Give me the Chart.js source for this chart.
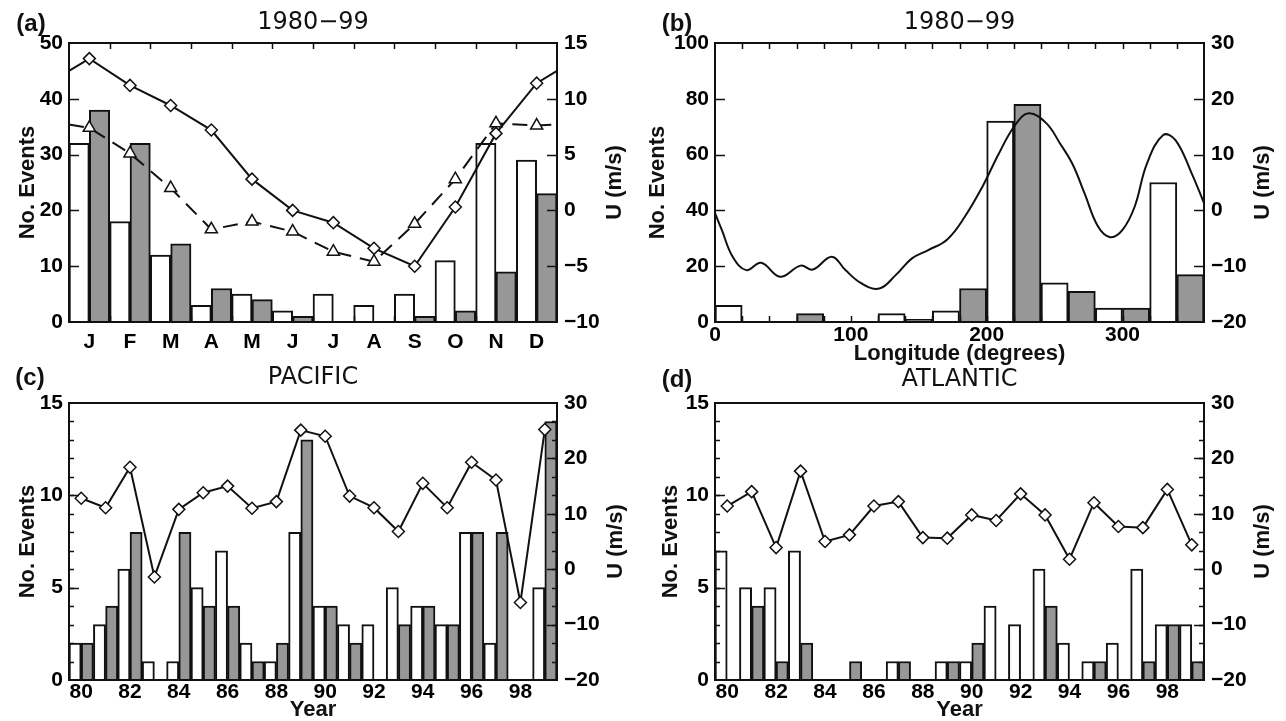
<!DOCTYPE html>
<html>
<head>
<meta charset="utf-8">
<script src="https://cdn.jsdelivr.net/npm/chart.js@4.4.0/dist/chart.umd.min.js"></script>
<style>
  html, body { margin: 0; padding: 0; background: #fff; width: 1286px; height: 721px; overflow: hidden; }
  canvas { position: absolute; }
</style>
</head>
<body>
<canvas id="pa" width="643" height="360" style="left:0;top:0"></canvas>
<canvas id="pb" width="643" height="368" style="left:643px;top:0"></canvas>
<canvas id="pc" width="643" height="361" style="left:0;top:360px"></canvas>
<canvas id="pd" width="643" height="353" style="left:643px;top:368px"></canvas>
<script>
// (a) seasonal cycle 1980-99
var months = ['J', 'F', 'M', 'A', 'M', 'J', 'J', 'A', 'S', 'O', 'N', 'D'];
var monthOpen = [32, 18, 12, 3, 5, 2, 5, 3, 5, 11, 32, 29];
var monthShaded = [38, 32, 14, 6, 4, 1, 0, 0, 1, 2, 9, 23];
var monthUDiamond = [13.6, 11.2, 9.4, 7.2, 2.8, 0.0, -1.1, -3.4, -5.0, 0.3, 6.9, 11.4];
var monthUTriangle = [7.4, 5.1, 2.0, -1.7, -1.0, -1.9, -3.7, -4.6, -1.2, 2.8, 7.8, 7.6];
var monthUDiamondEdge = 12.5;   // where the solid curve meets the frame (Dec/Jan wrap)
var monthUTriangleEdge = 7.7;

// (b) longitude distribution, 20 degree bins
var lonOpenStart = [0, 40, 80, 120, 160, 200, 240, 280, 320];
var lonOpen = [6, 0, 0, 3, 4, 72, 14, 5, 50];
var lonShadedStart = [20, 60, 100, 140, 180, 220, 260, 300, 340];
var lonShaded = [0, 3, 0, 1, 12, 78, 11, 5, 17];
var lonBinWidth = 20;
var lonTicks = [0, 100, 200, 300];
var lonCurveX = [0, 5, 13, 23, 34, 48, 63, 72, 86, 96, 108, 121, 133, 145, 157, 171, 184, 197, 209, 221, 231, 244, 254, 263, 272, 282, 291, 300, 309, 318, 330, 339, 351, 360];
var lonCurveU = [-0.5, -3.5, -8.3, -10.7, -9.4, -11.9, -9.9, -10.6, -8.3, -10.7, -13.1, -14.0, -11.6, -8.6, -7.1, -5.2, -1.1, 4.3, 10.2, 15.3, 17.4, 15.6, 12.0, 8.4, 3.1, -2.9, -4.8, -3.5, 0.7, 8.4, 13.5, 12.6, 6.6, 1.3];

// (c), (d) yearly counts
var years = ['80', '81', '82', '83', '84', '85', '86', '87', '88', '89', '90', '91', '92', '93', '94', '95', '96', '97', '98', '99'];
var pacOpen = [2, 3, 6, 1, 1, 5, 7, 2, 1, 8, 4, 3, 3, 5, 4, 3, 8, 2, 0, 5];
var pacShaded = [2, 4, 8, 0, 8, 4, 4, 1, 2, 13, 4, 2, 0, 3, 4, 3, 8, 8, 0, 14];
var pacU = [12.8, 11.1, 18.4, -1.4, 10.8, 13.8, 15.0, 11.0, 12.2, 25.1, 24.0, 13.2, 11.1, 6.8, 15.5, 11.1, 19.3, 16.1, -6.0, 25.2];
var atlOpen = [7, 5, 5, 7, 0, 0, 0, 1, 0, 1, 1, 4, 3, 6, 2, 1, 2, 6, 3, 3];
var atlShaded = [0, 4, 1, 2, 0, 1, 0, 1, 0, 1, 2, 0, 0, 4, 0, 1, 0, 1, 3, 1];
var atlU = [11.4, 14.0, 3.9, 17.7, 5.0, 6.2, 11.4, 12.2, 5.7, 5.6, 9.8, 8.8, 13.6, 9.8, 1.8, 12.0, 7.7, 7.5, 14.4, 4.4];

var FONT = '"Liberation Sans", Arial, sans-serif';
var TITLE_FONT = '"DejaVu Sans", sans-serif';
Chart.defaults.font.family = FONT;
Chart.defaults.font.size = 21;
Chart.defaults.font.weight = 'bold';
Chart.defaults.color = '#000';
Chart.defaults.animation = false;

var SHADE = '#979797';
var INK = '#111';

// frame, inward tick marks and panel texts
var panelDecor = {
    id: 'panelDecor',
    afterDraw: function (chart, args, opts) {
        var ctx = chart.ctx;
        var a = chart.chartArea;
        ctx.save();
        ctx.strokeStyle = INK;
        ctx.lineWidth = 1.5;
        (opts.marks || []).forEach(function (m) {
            var scale = chart.scales[m.axis];
            var start = m.from !== undefined ? m.from : scale.min;
            for (var v = start; v <= scale.max + 1e-6; v += m.step) {
                if (Math.abs(v - scale.min) < 1e-6 || Math.abs(v - scale.max) < 1e-6) continue;
                var p = Math.round(scale.getPixelForValue(v)) + 0.5;
                ctx.beginPath();
                if (m.side === 'left') {
                    ctx.moveTo(a.left, p); ctx.lineTo(a.left + m.len, p);
                } else if (m.side === 'right') {
                    ctx.moveTo(a.right, p); ctx.lineTo(a.right - m.len, p);
                } else {
                    ctx.moveTo(p, a.bottom); ctx.lineTo(p, a.bottom - m.len);
                    ctx.moveTo(p, a.top); ctx.lineTo(p, a.top + m.len);
                }
                ctx.stroke();
            }
        });
        ctx.lineWidth = 2;
        ctx.strokeRect(a.left, a.top, a.width, a.height);

        ctx.fillStyle = INK;
        ctx.textAlign = 'center';
        ctx.textBaseline = 'middle';
        ctx.font = 'bold 22px ' + FONT;
        if (opts.xTitle) ctx.fillText(opts.xTitle.text, (a.left + a.right) / 2, opts.xTitle.y);
        var midY = (a.top + a.bottom) / 2;
        [opts.yTitle, opts.y2Title].forEach(function (t) {
            if (!t) return;
            ctx.save();
            ctx.translate(t.x, midY);
            ctx.rotate(-Math.PI / 2);
            ctx.fillText(t.text, 0, 0);
            ctx.restore();
        });
        ctx.font = 'bold 24px ' + FONT;
        if (opts.letter) ctx.fillText(opts.letter.text, opts.letter.x, opts.letter.y);
        if (opts.title) {
            ctx.font = '24px ' + TITLE_FONT;
            ctx.fillText(opts.title.text, (a.left + a.right) / 2, opts.title.y);
        }
        ctx.restore();
    }
};

function minus(v) {
    return v < 0 ? '\u2212' + Math.abs(v) : String(v);
}

function leftAxis(max, step, width) {
    return {
        type: 'linear', position: 'left', min: 0, max: max,
        grid: {display: false, drawTicks: false}, border: {display: false},
        ticks: {stepSize: step, padding: 6, font: {size: 21, lineHeight: 1}},
        afterFit: function (s) { s.width = width; }
    };
}

function rightAxis(min, max, step, width) {
    return {
        type: 'linear', position: 'right', min: min, max: max,
        grid: {display: false, drawTicks: false}, border: {display: false},
        ticks: {stepSize: step, padding: 7, font: {size: 21, lineHeight: 1}, callback: minus},
        afterFit: function (s) { s.width = width; }
    };
}

function openBars(data) {
    return {
        type: 'bar', data: data, xAxisID: 'x', yAxisID: 'y', order: 2,
        backgroundColor: '#fff', borderColor: INK, borderWidth: 2,
        categoryPercentage: 1, barPercentage: 1
    };
}

function shadedBars(data) {
    var d = openBars(data);
    d.backgroundColor = SHADE;
    return d;
}

function uLine(data, style) {
    return {
        type: 'line', data: data, xAxisID: 'x', yAxisID: 'yU', order: 0,
        borderColor: INK, borderWidth: 2, borderDash: style === 'triangle' ? [15, 9] : [],
        pointStyle: style, backgroundColor: '#fff', pointBackgroundColor: '#fff',
        pointBorderColor: INK, pointBorderWidth: 1.5,
        pointRadius: function (c) { return c.raw && c.raw.x % 1 !== 0 ? 0 : (style === 'triangle' ? 7 : 6); },
        tension: 0, fill: false, clip: false
    };
}

// (a) all on a linear month axis: month i is centred on i, open bar in its left half, shaded in its right half
function monthBars(values, shift) {
    return values.map(function (v, i) { return {x: i + shift, y: v}; });
}

function withEdges(values, edge) {
    var pts = [{x: -0.5, y: edge}];
    values.forEach(function (u, i) { pts.push({x: i, y: u}); });
    pts.push({x: months.length - 0.5, y: edge});
    return pts;
}

var openA = openBars(monthBars(monthOpen, -0.25));
var shadedA = shadedBars(monthBars(monthShaded, 0.25));
openA.grouped = false;
shadedA.grouped = false;

new Chart(document.getElementById('pa'), {
    data: {
        datasets: [
            openA,
            shadedA,
            uLine(withEdges(monthUDiamond, monthUDiamondEdge), 'rectRot'),
            uLine(withEdges(monthUTriangle, monthUTriangleEdge), 'triangle')
        ]
    },
    options: {
        responsive: false,
        layout: {padding: {top: 43, left: 0, right: 0, bottom: 0}},
        plugins: {
            legend: {display: false}, tooltip: {enabled: false},
            panelDecor: {
                letter: {text: '(a)', x: 31, y: 24},
                title: {text: '1980\u221299', y: 23},
                yTitle: {text: 'No. Events', x: 28},
                y2Title: {text: 'U (m/s)', x: 615},
                marks: [
                    {axis: 'y', step: 10, len: 10, side: 'left'},
                    {axis: 'yU', step: 5, len: 10, side: 'right'},
                    {axis: 'x', from: -0.5, step: 1, len: 6, side: 'both'}
                ]
            }
        },
        scales: {
            x: {
                type: 'linear', min: -0.5, max: months.length - 0.5, offset: false,
                grid: {display: false, drawTicks: false}, border: {display: false},
                afterBuildTicks: function (s) { s.ticks = months.map(function (m, i) { return {value: i}; }); },
                ticks: {
                    padding: 10, autoSkip: false, maxRotation: 0, font: {size: 21, lineHeight: 1},
                    callback: function (v, i) { return months[i]; }
                },
                afterFit: function (s) { s.height = 38; }
            },
            y: leftAxis(50, 10, 69),
            yU: rightAxis(-10, 15, 5, 86)
        }
    },
    plugins: [panelDecor]
});

// (b)
function binBars(starts, counts) {
    return starts.map(function (s, i) { return {x: s + lonBinWidth / 2, y: counts[i]}; });
}
var openB = openBars(binBars(lonOpenStart, lonOpen));
var shadedB = shadedBars(binBars(lonShadedStart, lonShaded));
openB.grouped = false;
shadedB.grouped = false;
var curveB = uLine(lonCurveX.map(function (x, i) { return {x: x, y: lonCurveU[i]}; }), 'circle');
curveB.pointRadius = 0;
curveB.tension = 0.4;

new Chart(document.getElementById('pb'), {
    data: {datasets: [openB, shadedB, curveB]},
    options: {
        responsive: false,
        layout: {padding: {top: 43, left: 0, right: 0, bottom: 0}},
        plugins: {
            legend: {display: false}, tooltip: {enabled: false},
            panelDecor: {
                letter: {text: '(b)', x: 34, y: 24},
                title: {text: '1980\u221299', y: 23},
                yTitle: {text: 'No. Events', x: 15},
                y2Title: {text: 'U (m/s)', x: 620},
                xTitle: {text: 'Longitude (degrees)', y: 354},
                marks: [
                    {axis: 'y', step: 20, len: 10, side: 'left'},
                    {axis: 'yU', step: 10, len: 10, side: 'right'},
                    {axis: 'x', from: 0, step: 20, len: 6, side: 'both'}
                ]
            }
        },
        scales: {
            x: {
                type: 'linear', min: 0, max: 360, offset: false,
                grid: {display: false, drawTicks: false}, border: {display: false},
                afterBuildTicks: function (s) { s.ticks = lonTicks.map(function (v) { return {value: v}; }); },
                ticks: {padding: 3, maxRotation: 0, font: {size: 21, lineHeight: 1}},
                afterFit: function (s) { s.height = 46; }
            },
            y: leftAxis(100, 20, 72),
            yU: rightAxis(-20, 30, 10, 82)
        }
    },
    plugins: [panelDecor]
});

// (c), (d)
function yearChart(id, letter, title, open, shaded, u, leftW, rightW, topPad, xH, letterX, titleY, yTitleX, y2TitleX, xTitleY) {
    var line = uLine(u, 'rectRot');
    line.pointRadius = 6;
    new Chart(document.getElementById(id), {
        data: {
            labels: years,
            datasets: [openBars(open), shadedBars(shaded), line]
        },
        options: {
            responsive: false,
            layout: {padding: {top: topPad, left: 0, right: 0, bottom: 0}},
            plugins: {
                legend: {display: false}, tooltip: {enabled: false},
                panelDecor: {
                    letter: {text: letter, x: letterX, y: titleY},
                    title: {text: title, y: titleY},
                    yTitle: {text: 'No. Events', x: yTitleX},
                    y2Title: {text: 'U (m/s)', x: y2TitleX},
                    xTitle: {text: 'Year', y: xTitleY},
                    marks: [
                        {axis: 'y', step: 1, len: 5, side: 'left'},
                        {axis: 'y', step: 5, len: 10, side: 'left'},
                        {axis: 'yU', step: 10 / 3, len: 5, side: 'right'},
                        {axis: 'yU', step: 10, len: 10, side: 'right'}
                    ]
                }
            },
            scales: {
                x: {
                    type: 'category', offset: true,
                    grid: {display: false, drawTicks: false}, border: {display: false},
                    ticks: {
                        padding: 2, autoSkip: false, maxRotation: 0, font: {size: 21, lineHeight: 1},
                        callback: function (v, i) { return i % 2 === 0 ? this.getLabelForValue(v) : ''; }
                    },
                    afterFit: function (s) { s.height = xH; }
                },
                y: leftAxis(15, 5, leftW),
                yU: rightAxis(-20, 30, 10, rightW)
            }
        },
        plugins: [panelDecor]
    });
}

yearChart('pc', '(c)', 'PACIFIC', pacOpen, pacShaded, pacU, 69, 86, 43, 41, 30, 18, 28, 616, 350);
yearChart('pd', '(d)', 'ATLANTIC', atlOpen, atlShaded, atlU, 72, 82, 35, 41, 34, 12, 28, 620, 342);
</script>
</body>
</html>
